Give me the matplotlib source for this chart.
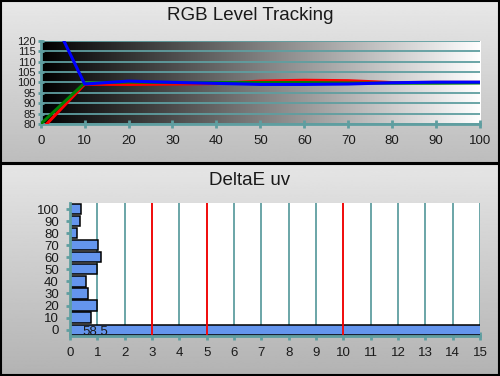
import numpy as np
import matplotlib.pyplot as plt
from matplotlib.patches import Rectangle

plt.rcParams['font.family'] = ['Liberation Sans', 'DejaVu Sans']

# RGB level tracking data
levels = [0, 10, 20, 30, 40, 50, 60, 70, 80, 90, 100]
red = [77, 99.1, 99.0, 99.2, 99.4, 100.6, 101.0, 100.8, 99.9, 100.0, 100.0]
green = [80, 99.7, 100.1, 99.9, 99.9, 99.9, 99.9, 99.7, 99.6, 99.6, 99.7]
blue = [143, 99.2, 100.6, 100.0, 99.5, 99.0, 99.0, 99.2, 99.8, 100.1, 100.1]

# DeltaE uv data
de_labels = ["0", "10", "20", "30", "40", "50", "60", "70", "80", "90", "100"]
de_values = [58.5, 0.78, 1.0, 0.67, 0.60, 0.98, 1.15, 1.04, 0.27, 0.38, 0.41]
limits = [3, 5, 10]

TEAL = "#5f9ea0"
TXT = "#1a1a1a"

W, H = 500, 376
fig = plt.figure(figsize=(W / 100, H / 100), dpi=100)

# panel backgrounds with vertical gray gradient
bg = fig.add_axes([0, 0, 1, 1])
bg.set_xlim(0, W)
bg.set_ylim(H, 0)
bg.axis("off")
bg.imshow(np.linspace(0.91, 0.74, 256).reshape(-1, 1), cmap="gray", vmin=0, vmax=1,
          extent=[0, W, 163, 0], aspect="auto")
bg.imshow(np.linspace(0.90, 0.70, 256).reshape(-1, 1), cmap="gray", vmin=0, vmax=1,
          extent=[0, W, H, 164], aspect="auto")
bg.add_patch(Rectangle((0.75, 0.75), W - 1.5, 162.5, fill=False, ec="black", lw=1.5))
bg.add_patch(Rectangle((0.75, 163.5), W - 1.5, H - 164.25, fill=False, ec="black", lw=1.5))

fig.text(0.5, 1 - 15 / H, "RGB Level Tracking", ha="center", va="center", fontsize=13.5, color=TXT)
fig.text(0.5, 1 - 180 / H, "DeltaE uv", ha="center", va="center", fontsize=13.5, color=TXT)

# top chart
ax = fig.add_axes([40.7 / W, 1 - 124 / H, (480 - 40.7) / W, (124 - 40.7) / H])
ax.imshow(np.linspace(0, 1, 256).reshape(1, -1), cmap="gray", vmin=0, vmax=1,
          extent=[0, 100, 80, 120], aspect="auto", zorder=0)
ax.set_xlim(0, 100)
ax.set_ylim(80, 120)
ax.set_yticks(np.arange(80, 121, 5))
ax.set_xticks(np.arange(0, 101, 10))
ax.grid(axis="y", color=TEAL, lw=1.3, zorder=1)
ax.plot(levels, red, color="#ff0000", lw=2.2, zorder=3)
ax.plot(levels, green, color="#008000", lw=2.2, zorder=3)
ax.plot(levels, blue, color="#0000ff", lw=2.2, zorder=4)
for s in ["top", "right"]:
    ax.spines[s].set_visible(False)
for s in ["left", "bottom"]:
    ax.spines[s].set_color(TEAL)
    ax.spines[s].set_linewidth(2)
ax.tick_params(axis="x", direction="inout", length=6, width=2, color=TEAL,
               labelsize=9.5, labelcolor=TXT, pad=5)
ax.tick_params(axis="y", direction="inout", length=4, width=2, color=TEAL,
               labelsize=8, labelcolor=TXT, pad=1.5)

# bottom chart
bx = fig.add_axes([70 / W, 1 - 335.7 / H, 410 / W, (335.7 - 203) / H])
bx.set_facecolor("white")
pos = np.arange(len(de_labels))
bx.barh(pos, de_values, height=0.85, color="#6495ed", edgecolor="black", lw=1.1, zorder=2)
for v in limits:
    bx.axvline(v, color="#ff0000", lw=1.3, zorder=3)
bx.text(0.45, -0.2, f"{de_values[0]:g}", ha="left", va="center", fontsize=9.5, color=TXT, zorder=4)
bx.set_xlim(0, 15)
bx.set_ylim(-0.5, 10.5)
bx.set_xticks(np.arange(0, 16, 1))
bx.set_yticks(pos)
bx.set_yticklabels(de_labels)
bx.grid(axis="x", color=TEAL, lw=1.3, zorder=1)
bx.set_axisbelow(True)
for s in ["top", "right"]:
    bx.spines[s].set_visible(False)
for s in ["left", "bottom"]:
    bx.spines[s].set_color(TEAL)
    bx.spines[s].set_linewidth(2)
    bx.spines[s].set_zorder(3)
bx.tick_params(axis="x", direction="inout", length=6, width=2, color=TEAL,
               labelsize=9.5, labelcolor=TXT, pad=5)
bx.tick_params(axis="y", direction="inout", length=6, width=2, color=TEAL,
               labelsize=9.5, labelcolor=TXT, pad=5)

fig.savefig("out.png", dpi=100)
